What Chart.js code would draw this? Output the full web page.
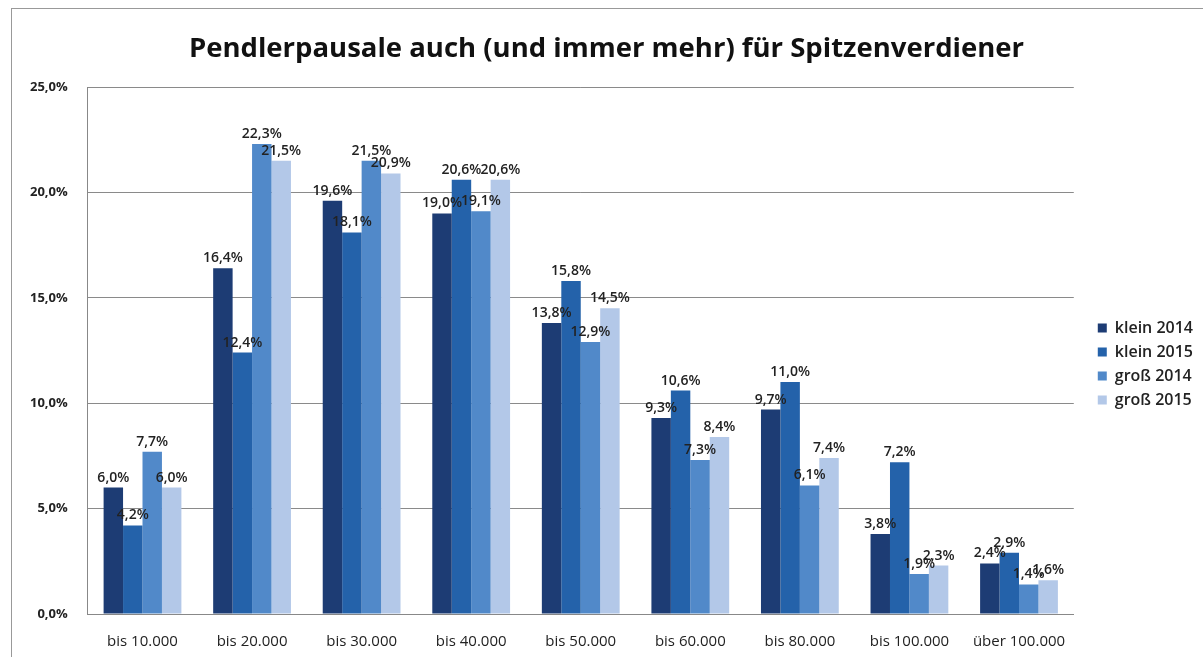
<!DOCTYPE html>
<html>
<head>
<meta charset="utf-8">
<script src="https://cdn.jsdelivr.net/npm/chart.js@4/dist/chart.umd.min.js"></script>
<style>
  html, body { margin: 0; padding: 0; background: #fff; }
  body { width: 1203px; height: 657px; position: relative; overflow: hidden; }
  #frame { position: absolute; left: 11px; top: 8px; width: 1300px; height: 800px; border: 1px solid #999; }
  #wrap { position: absolute; left: 0; top: 0; width: 1203px; height: 657px; }
</style>
</head>
<body>
<div id="frame"></div>
<div id="wrap"><canvas id="pendlerChart"></canvas></div>
<script>
const categories = ['bis 10.000', 'bis 20.000', 'bis 30.000', 'bis 40.000', 'bis 50.000', 'bis 60.000', 'bis 80.000', 'bis 100.000', 'über 100.000'];
const klein2014 = [6.0, 16.4, 19.6, 19.0, 13.8, 9.3, 9.7, 3.8, 2.4];
const klein2015 = [4.2, 12.4, 18.1, 20.6, 15.8, 10.6, 11.0, 7.2, 2.9];
const gross2014 = [7.7, 22.3, 21.5, 19.1, 12.9, 7.3, 6.1, 1.9, 1.4];
const gross2015 = [6.0, 21.5, 20.9, 20.6, 14.5, 8.4, 7.4, 2.3, 1.6];
const yTicks = [0, 5, 10, 15, 20, 25];

const fmt = v => v.toFixed(1).replace('.', ',') + '%';
const FONT = '"Open Sans", sans-serif';

// value labels above each bar
const barLabels = {
    id: 'barLabels',
    afterDatasetsDraw(chart) {
        const ctx = chart.ctx;
        ctx.save();
        ctx.font = '600 14px ' + FONT;
        ctx.fillStyle = '#222';
        ctx.textAlign = 'center';
        ctx.textBaseline = 'bottom';
        chart.data.datasets.forEach((ds, i) => {
            const meta = chart.getDatasetMeta(i);
            meta.data.forEach((bar, j) => {
                ctx.fillText(fmt(ds.data[j]), bar.x, bar.y - 3);
            });
        });
        ctx.restore();
    }
};

function makeDataset(label, data, color) {
    return {
        label: label,
        data: data,
        backgroundColor: color,
        borderWidth: 0,
        categoryPercentage: 0.71,
        barPercentage: 1.0
    };
}

const ctx = document.getElementById('pendlerChart').getContext('2d');
const pendlerChart = new Chart(ctx, {
    type: 'bar',
    data: {
        labels: categories,
        datasets: [
            makeDataset('klein 2014', klein2014, '#1d3c74'),
            makeDataset('klein 2015', klein2015, '#2462aa'),
            makeDataset('groß 2014', gross2014, '#5189c9'),
            makeDataset('groß 2015', gross2015, '#b3c8e8')
        ]
    },
    options: {
        responsive: true,
        maintainAspectRatio: false,
        animation: false,
        layout: { padding: { left: 10, right: 0, top: 15, bottom: 0 } },
        plugins: {
            title: {
                display: true,
                text: 'Pendlerpausale auch (und immer mehr) für Spitzenverdiener',
                color: '#111',
                font: { family: FONT, size: 27.5, weight: 'bold' },
                padding: { top: 18, bottom: 21 }
            },
            legend: {
                position: 'right',
                // empty title only pushes the entries a bit down
                title: { display: true, text: '', font: { size: 10 }, padding: 22 },
                labels: {
                    color: '#222',
                    font: { family: FONT, size: 16, weight: '600' },
                    boxWidth: 9,
                    boxHeight: 9,
                    padding: 8
                }
            },
            tooltip: { enabled: false }
        },
        scales: {
            x: {
                grid: { display: false, drawTicks: false },
                border: { color: '#888' },
                ticks: {
                    color: '#222',
                    font: { family: FONT, size: 15 },
                    padding: 19,
                    maxRotation: 0
                },
                afterFit: s => { s.height = 43; }
            },
            y: {
                min: 0,
                max: 25,
                afterBuildTicks: axis => { axis.ticks = yTicks.map(v => ({ value: v })); },
                grid: { color: '#8a8a8a', drawTicks: false },
                border: { color: '#888' },
                ticks: {
                    color: '#222',
                    font: { family: FONT, size: 13, weight: 'bold' },
                    padding: 20,
                    callback: v => fmt(v)
                }
            },
            // empty axis on the right, only to leave a gap before the legend
            gap: {
                position: 'right',
                display: true,
                grid: { display: false, drawTicks: false },
                border: { display: false },
                ticks: { display: false },
                afterFit: s => { s.width = 16; }
            }
        }
    },
    plugins: [barLabels]
});
</script>
</body>
</html>
